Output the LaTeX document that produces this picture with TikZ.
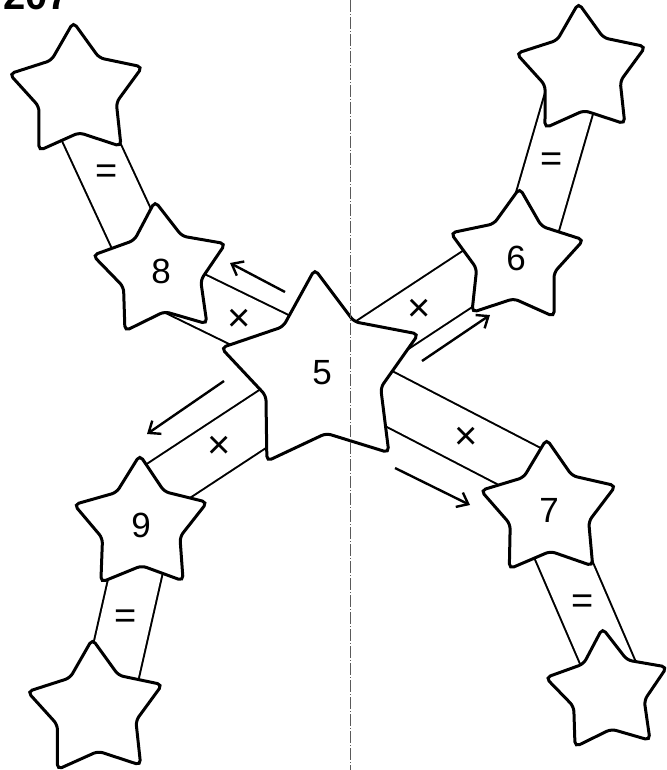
\documentclass[tikz,border=0pt]{standalone}
\usepackage{fontspec}
\setmainfont{Liberation Sans}
\usepackage{tikz}
\usetikzlibrary{positioning,arrows.meta,shapes.geometric,backgrounds}
\definecolor{foldgray}{RGB}{90,90,90}
\tikzset{
  starbox/.style={star,star points=5,star point ratio=1.72,draw=black,line width=3pt,fill=white,rounded corners=5pt,inner sep=0pt,minimum size=#1,font=\fontsize{35}{35}\selectfont},
  ribbon/.style={draw=black,line width=2pt,double=white,double distance=50pt},
  eqmark/.style={font=\fontsize{38}{38}\selectfont,inner sep=0pt},
  xmark/.style={font=\fontsize{40}{40}\selectfont,inner sep=0pt},
  move/.style={-{Straight Barb[length=10pt,width=16pt]},line width=2.4pt},
  fold/.style={foldgray,line width=0.8pt,dash pattern=on 12pt off 2pt on 1pt off 2pt}
}
\begin{document}
\begin{tikzpicture}[x=1pt,y=-1pt]
  \useasboundingbox (0,0) rectangle (666,770);
  \clip (0,0) rectangle (666,770);
  \node[anchor=base west,inner sep=0pt,font=\bfseries\fontsize{40}{40}\selectfont] (num) at (3,10) {207};
  \node[starbox=208pt,shape border rotate=4] (s5) at (322,373) {5};
  \node[starbox=140pt,shape border rotate=5] (s8) at (161,271) {8};
  \node[starbox=140pt,shape border rotate=-3] (s6) at (516,258) {6};
  \node[starbox=140pt,shape border rotate=1] (s9) at (141,525) {9};
  \node[starbox=142pt,shape border rotate=2] (s7) at (549,510) {7};
  \node[starbox=140pt,shape border rotate=3] (end8) at (77,92) {};
  \node[starbox=136pt,shape border rotate=3] (end6) at (582,71) {};
  \node[starbox=142pt,shape border rotate=3] (end9) at (96,710) {};
  \node[starbox=128pt,shape border rotate=5] (end7) at (608,692) {};
  \begin{scope}[on background layer]
    \draw[ribbon] ([xshift=-9pt]end8.center) -- node[eqmark,pos=0.46] (eq8) {=} ([xshift=-10pt]s8.center);
    \draw[ribbon] ([yshift=12.7pt]s5.center) -- node[xmark,pos=0.48] (x8) {×} ([xshift=-11pt,yshift=-5.4pt]s8.center);
    \draw[ribbon] ([yshift=-1.7pt]s5.center) -- node[xmark,pos=0.5] (x6) {×} ([yshift=11pt]s6.center);
    \draw[ribbon] ([xshift=8pt]s6.center) -- node[eqmark,pos=0.51] (eq6) {=} ([xshift=-3.6pt]end6.center);
    \draw[ribbon] ([yshift=-7pt]s5.center) -- node[xmark,pos=0.6] (x9) {×} ([xshift=9pt,yshift=32pt]s9.center);
    \draw[ribbon] ([xshift=6pt]s9.center) -- node[eqmark,pos=0.51] (eq9) {=} ([xshift=9pt]end9.center);
    \draw[ribbon] ([yshift=9pt]s5.center) -- node[xmark,pos=0.66] (x7) {×} ([xshift=-9pt,yshift=33pt]s7.center);
    \draw[ribbon] ([xshift=-7pt]s7.center) -- node[eqmark,pos=0.52] (eq7) {=} ([xshift=12.5pt]end7.center);
  \end{scope}
  \coordinate (a8from) at (285,292);
  \coordinate (a8to) at (230,263);
  \coordinate (a6from) at (422,361);
  \coordinate (a6to) at (490,315);
  \coordinate (a9from) at (224,381);
  \coordinate (a9to) at (147,434);
  \coordinate (a7from) at (395,468);
  \coordinate (a7to) at (470,505);
  \draw[move] (a8from) -- (a8to);
  \draw[move] (a6from) -- (a6to);
  \draw[move] (a9from) -- (a9to);
  \draw[move] (a7from) -- (a7to);
  \coordinate (foldtop) at (350.5,0);
  \coordinate (foldbot) at (350.5,770);
  \draw[fold] (foldtop) -- (foldbot);
\end{tikzpicture}
\end{document}
